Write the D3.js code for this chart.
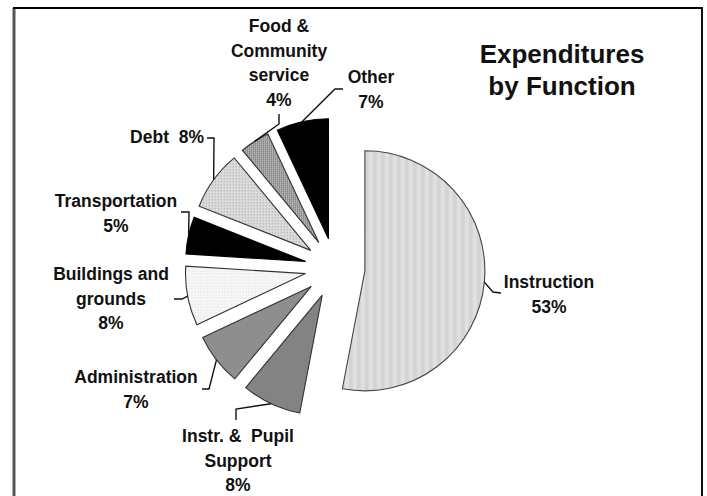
<!DOCTYPE html>
<html>
<head>
<meta charset="utf-8">
<script src="https://cdn.jsdelivr.net/npm/d3@7"></script>
<style>
  html, body { margin: 0; padding: 0; background: #fff; }
  svg { display: block; }
  text { font-family: "Liberation Sans", Arial, Helvetica, sans-serif; font-weight: bold; fill: #111; }
</style>
</head>
<body>
<div id="chart"></div>
<script>
// Expenditures by function, share of total (%)
const categories = [
  "Instruction", "Instr. & Pupil Support", "Administration", "Buildings and grounds",
  "Transportation", "Debt", "Food & Community service", "Other"
];
const shares = [53, 8, 7, 8, 5, 8, 4, 7];
const labelLines = [
  ["Instruction", "53%"],
  ["Instr. &  Pupil", "Support", "8%"],
  ["Administration", "7%"],
  ["Buildings and", "grounds", "8%"],
  ["Transportation", "5%"],
  ["Debt  8%"],
  ["Food &", "Community", "service", "4%"],
  ["Other", "7%"]
];
const titleLines = ["Expenditures", "by Function"];

const W = 707, H = 496;
const center = [335, 268];
const radius = 120;
const explode = 30;
const lineHeight = 24.5;

// Per-slice fill and label placement (first baseline, leader elbow points)
const sliceStyle = [
  { fill: "url(#stripes)", stroke: "#444" },
  { fill: "#838383", stroke: "#333" },
  { fill: "#8e8e8e", stroke: "#333" },
  { fill: "url(#fineDots)", stroke: "#333" },
  { fill: "#000", stroke: "#000" },
  { fill: "url(#lightDots)", stroke: "#333" },
  { fill: "url(#darkDots)", stroke: "#333" },
  { fill: "#000", stroke: "#000" }
];
const labelLayout = [
  { x: 549, y: 288, anchor: "middle", leader: [[501, 293], [493, 292]] },
  { x: 238, y: 442, anchor: "middle", leader: [[236, 420], [236, 409]] },
  { x: 136, y: 383, anchor: "middle", leader: [[202, 389], [209, 389]] },
  { x: 111, y: 280, anchor: "middle", leader: [[174, 299], [182, 299]] },
  { x: 116, y: 207, anchor: "middle", leader: [[181, 212], [189, 212]] },
  { x: 204, y: 143, anchor: "end",    leader: [[207, 138], [214, 138]] },
  { x: 279, y: 32,  anchor: "middle", leader: [[279, 114], [279, 124]] },
  { x: 371, y: 83,  anchor: "middle", leader: [[343, 89], [335, 89]] }
];

const svg = d3.select("#chart").append("svg")
  .attr("width", W).attr("height", H);

// Fill patterns
const defs = svg.append("defs");
const stripes = defs.append("pattern").attr("id", "stripes")
  .attr("patternUnits", "userSpaceOnUse").attr("width", 8).attr("height", 8);
stripes.append("rect").attr("width", 8).attr("height", 8).attr("fill", "#e0e0e0");
stripes.append("rect").attr("width", 4).attr("height", 8).attr("fill", "#d4d4d4");

function dotPattern(id, bg, dot, size) {
  const p = defs.append("pattern").attr("id", id)
    .attr("patternUnits", "userSpaceOnUse").attr("width", size).attr("height", size);
  p.append("rect").attr("width", size).attr("height", size).attr("fill", bg);
  p.append("rect").attr("width", 1).attr("height", 1).attr("fill", dot);
}
dotPattern("fineDots", "#f7f7f7", "#d8d8d8", 3);
dotPattern("lightDots", "#dcdcdc", "#9c9c9c", 3);
dotPattern("darkDots", "#b0b0b0", "#6a6a6a", 2);

// Frame
svg.append("line").attr("x1", 14).attr("y1", 8).attr("x2", 14).attr("y2", H)
  .attr("stroke", "#555").attr("stroke-width", 3);
svg.append("line").attr("x1", 13).attr("y1", 8).attr("x2", 703).attr("y2", 8)
  .attr("stroke", "#000").attr("stroke-width", 2);
svg.append("line").attr("x1", 702).attr("y1", 8).attr("x2", 702).attr("y2", H)
  .attr("stroke", "#111").attr("stroke-width", 2);

// Pie
const data = categories.map((c, i) => ({ category: c, value: shares[i], i }));
const pie = d3.pie().sort(null).value(d => d.value).startAngle(0).endAngle(2 * Math.PI);
const arc = d3.arc().innerRadius(0).outerRadius(radius);
const arcs = pie(data);

const g = svg.append("g").attr("transform", `translate(${center[0]},${center[1]})`);
g.selectAll("path.slice").data(arcs).enter().append("path")
  .attr("class", "slice")
  .attr("transform", d => {
    const m = (d.startAngle + d.endAngle) / 2;
    return `translate(${explode * Math.sin(m)},${-explode * Math.cos(m)})`;
  })
  .attr("d", arc)
  .attr("fill", d => sliceStyle[d.data.i].fill)
  .attr("stroke", d => sliceStyle[d.data.i].stroke)
  .attr("stroke-width", 1.1)
  .attr("stroke-linejoin", "miter");

// Leader lines from each slice's outer arc midpoint to its label
const leaderLine = d3.line();
arcs.forEach(d => {
  const m = (d.startAngle + d.endAngle) / 2;
  const rr = explode + radius;
  const tip = [center[0] + rr * Math.sin(m), center[1] - rr * Math.cos(m)];
  const pts = labelLayout[d.data.i].leader.concat([tip]);
  svg.append("path").attr("d", leaderLine(pts))
    .attr("fill", "none").attr("stroke", "#111").attr("stroke-width", 1.4);
});

// Slice labels
arcs.forEach(d => {
  const L = labelLayout[d.data.i];
  const t = svg.append("text")
    .attr("text-anchor", L.anchor)
    .attr("font-size", 17.5);
  labelLines[d.data.i].forEach((line, k) => {
    t.append("tspan").attr("x", L.x).attr("y", L.y + k * lineHeight)
      .style("white-space", "pre").text(line);
  });
});

// Title
const title = svg.append("text").attr("text-anchor", "middle").attr("font-size", 26);
titleLines.forEach((line, k) => {
  title.append("tspan").attr("x", 562).attr("y", 63 + k * 32).text(line);
});
</script>
</body>
</html>
